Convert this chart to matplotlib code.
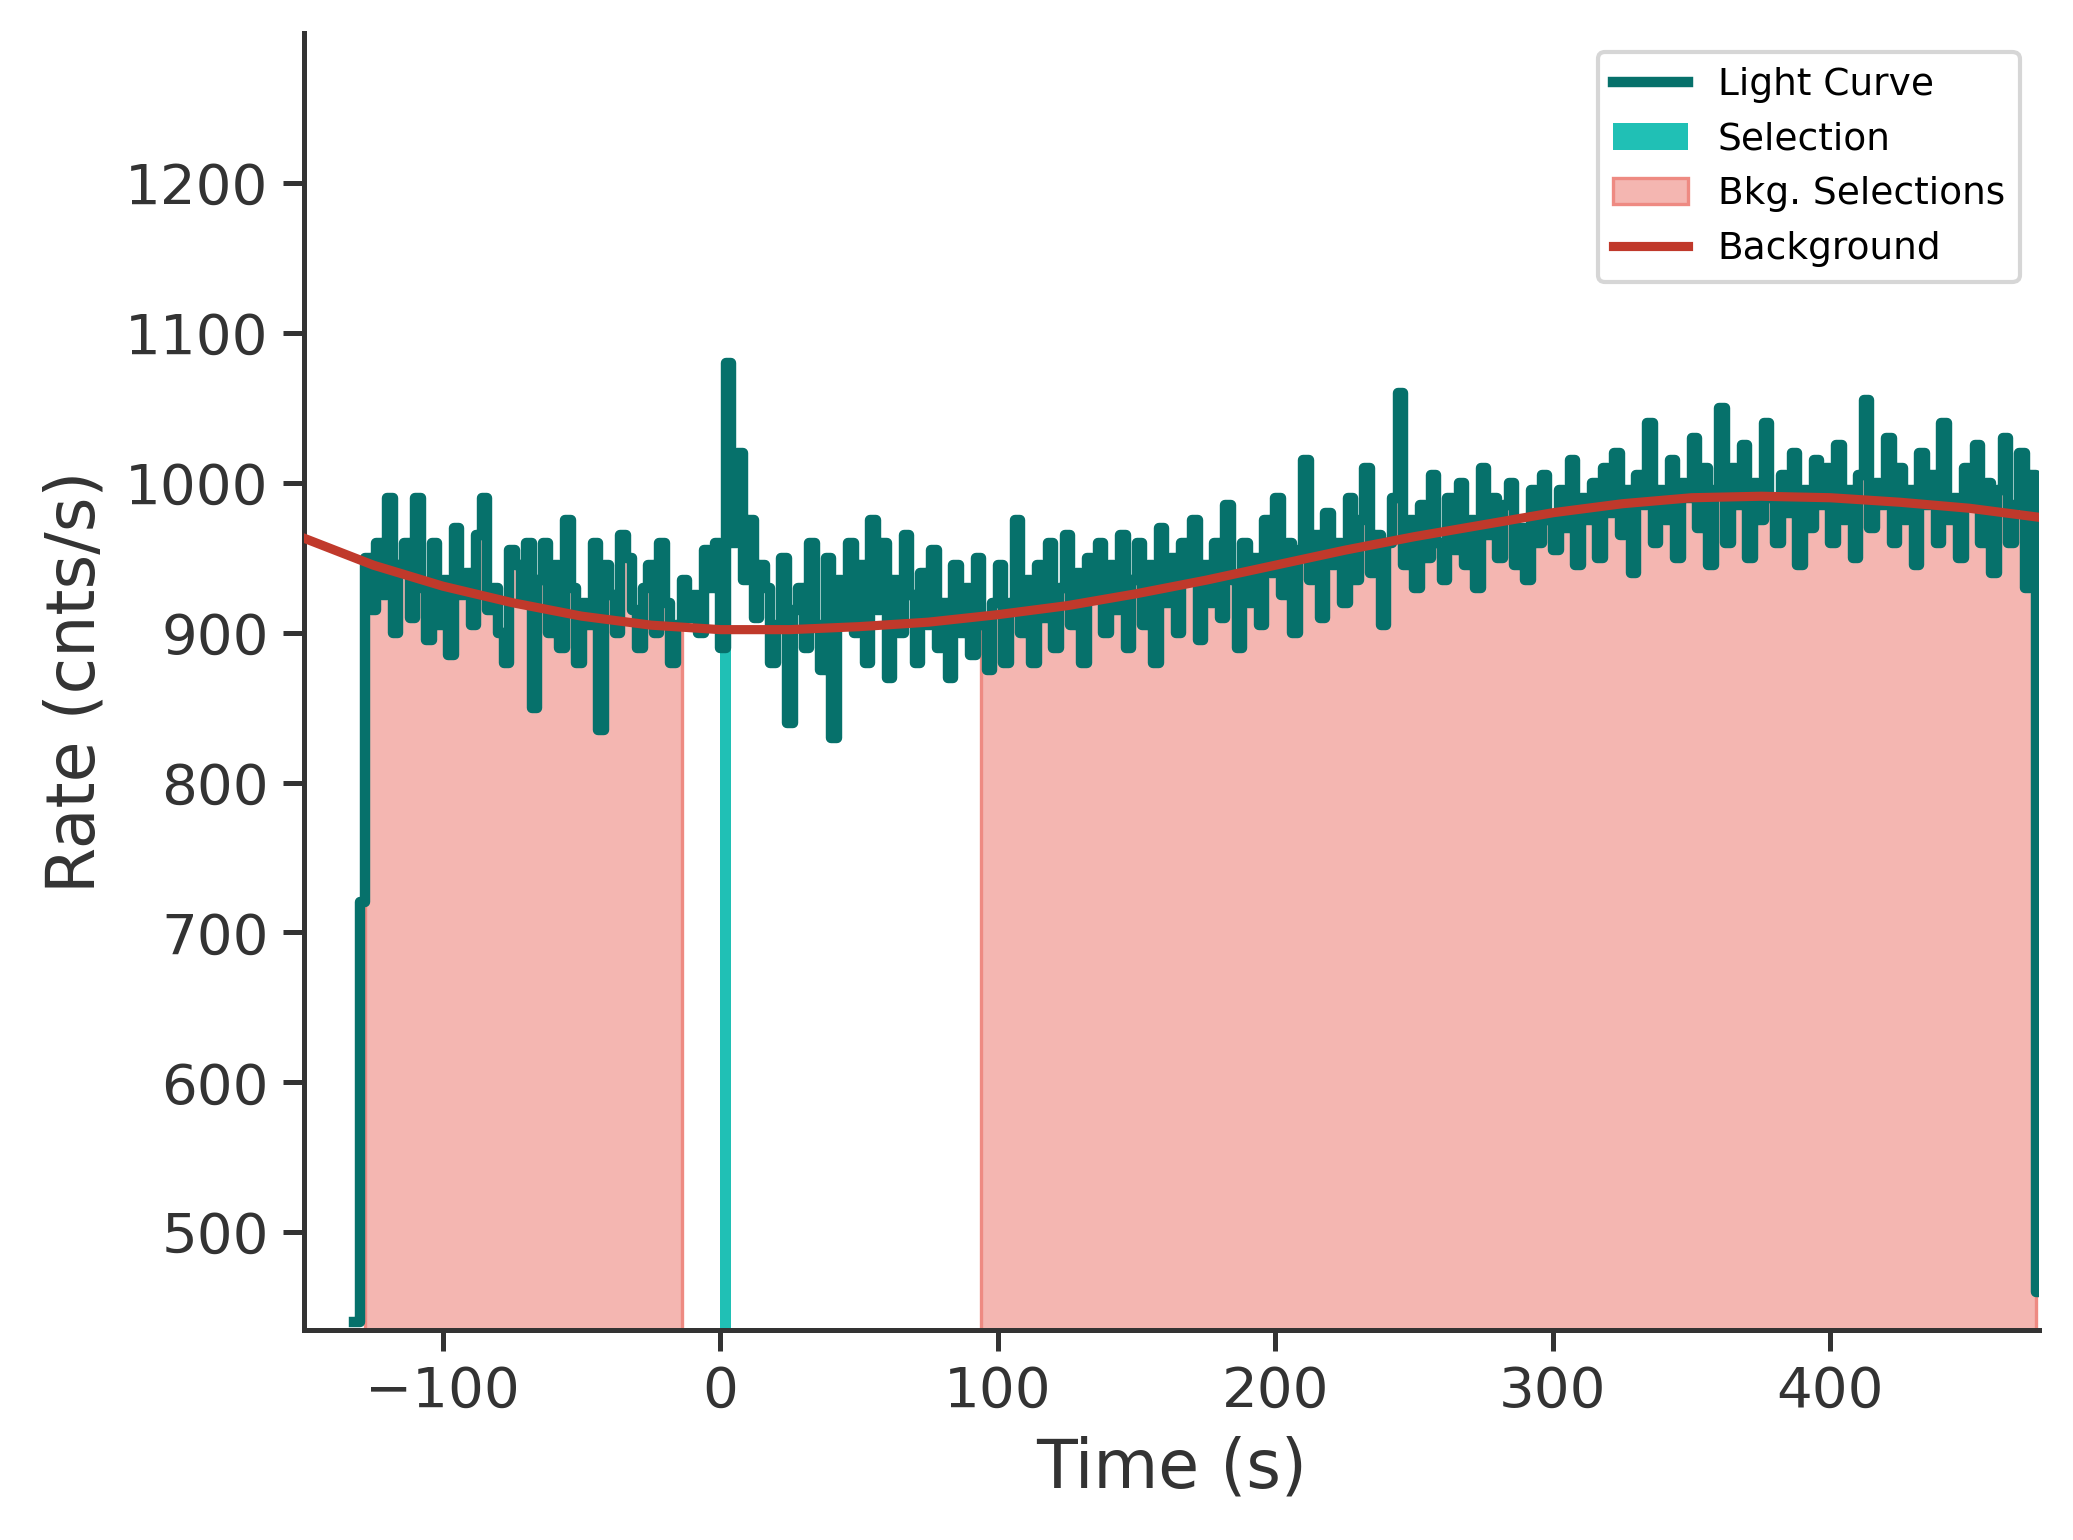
import numpy as np
import matplotlib
matplotlib.use("Agg")
import matplotlib.pyplot as plt

t_start = -132.0
bin_width = 2.0
rates = [440,
720,950,915,960,925,990,900,945,960,910,
990,930,895,960,905,935,885,970,925,940,
905,965,990,915,930,900,880,955,945,920,
960,850,935,960,900,945,890,975,930,880,
920,905,960,835,945,925,900,965,950,915,
890,930,945,900,960,920,880,905,935,910,
925,900,955,930,960,890,1080,960,1020,935,
975,910,945,930,880,905,950,840,915,930,
890,960,905,875,950,830,935,910,960,900,
945,880,975,915,960,870,935,900,965,925,
880,940,905,955,890,920,870,945,900,930,
885,950,905,875,920,
945,880,920,975,900,935,880,945,910,960,
890,930,965,905,940,880,950,925,960,900,
945,915,965,890,935,960,905,945,880,970,
920,950,900,960,935,975,895,945,920,960,
910,985,935,890,960,920,950,905,975,940,
990,925,960,900,955,1015,935,965,910,980,
945,960,920,990,935,975,1010,940,965,905,
960,990,1060,945,975,930,985,950,1005,960,
935,990,955,1000,945,975,930,1010,965,990,
950,985,1000,945,970,935,995,960,1005,975,
955,995,970,1015,945,990,975,1000,950,1010,
980,1020,965,995,940,1005,985,1040,960,995,
975,1015,950,1000,990,1030,970,1010,945,995,
1050,960,1010,985,1025,950,1000,975,1040,990,
960,1005,980,1020,945,995,970,1015,985,1010,
960,1025,975,995,950,1005,1055,970,1000,985,
1030,960,1010,975,995,945,1020,985,1005,960,
1040,975,990,950,1010,985,1025,960,1000,940,
995,1030,960,985,1020,930,1005,460]

bkg_t = [-150,-125,-100,-75,-50,-25,0,25,50,75,100,125,150,175,200,225,250,275,300,325,350,375,400,425,450,475]
bkg_v = [963,945,931,920,911,905,902,902,904,907,912,918,926,935,945,955,964,972,980,986,990,991,990,987,983,977]

sel_range = (0, 4)
bkg_ranges = [(-128, -14), (94, 474)]

times = t_start + bin_width * np.arange(len(rates))
rates = np.array(rates, dtype=float)
edges = np.append(times, times[-1] + bin_width)
vals = np.append(rates, rates[-1])

fig, ax = plt.subplots(figsize=(2073/300, 1540/300), dpi=300)
ymin = 435
for i, (a, b) in enumerate(bkg_ranges):
    m = (edges >= a) & (edges <= b)
    ax.fill_between(edges[m], ymin, vals[m], step='post', facecolor='#f4b6b1',
                    edgecolor='#ee8a82', lw=0.8, label='Bkg. Selections' if i == 0 else None, zorder=1)
m = (edges >= sel_range[0]) & (edges <= sel_range[1])
ax.fill_between(edges[m], ymin, vals[m], step='post', color='#20c0b5', lw=0, label='Selection', zorder=2)
ax.step(edges, vals, where='post', color='#06716b', lw=2.5, label='Light Curve', zorder=3)
ax.plot(bkg_t, bkg_v, color='#c0392b', lw=2.2, label='Background', zorder=4)

ax.set_xlim(-150, 475)
ax.set_ylim(ymin, 1300)
ax.set_yticks([500,600,700,800,900,1000,1100,1200])
ax.set_xlabel('Time (s)', fontsize=16, color='#333333')
ax.set_ylabel('Rate (cnts/s)', fontsize=16, color='#333333')
ax.tick_params(labelsize=13.5, colors='#333333', length=5, width=1.2)
for s in ['top', 'right']:
    ax.spines[s].set_visible(False)
for s in ['left', 'bottom']:
    ax.spines[s].set_color('#333333')
    ax.spines[s].set_linewidth(1.2)
h, l = ax.get_legend_handles_labels()
order = [l.index(x) for x in ['Light Curve', 'Selection', 'Bkg. Selections', 'Background']]
ax.legend([h[i] for i in order], [l[i] for i in order], fontsize=9, loc='upper right')
W, H = 1568, 1164
fig.subplots_adjust(left=230/W, right=1542/W, bottom=1-1005/H, top=1-25/H)
fig.savefig('out.png', dpi=300)
